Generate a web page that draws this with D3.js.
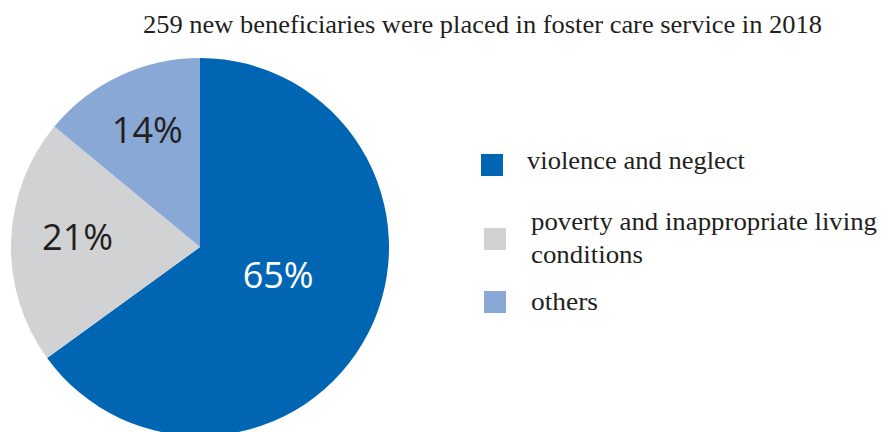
<!DOCTYPE html>
<html>
<head>
<meta charset="utf-8">
<script src="https://cdn.jsdelivr.net/npm/d3@7"></script>
<style>
  html, body { margin: 0; padding: 0; background: #fff; }
  svg { display: block; }
</style>
</head>
<body>
<svg id="chart" width="881" height="432"></svg>
<script>
// Reasons for placement in foster care, 2018
const categories = ["violence and neglect", "poverty and inappropriate living conditions", "others"];
const legendLines = [["violence and neglect"], ["poverty and inappropriate living", "conditions"], ["others"]];
const shares = [65, 21, 14];
const colors = ["#0066b3", "#d1d2d4", "#8aa8d6"];
const labelColors = ["#ffffff", "#231f20", "#231f20"];
const title = "259 new beneficiaries were placed in foster care service in 2018";

const svg = d3.select("#chart");
const cx = 200, cy = 247, R = 189;
const serif = "'Liberation Serif', 'DejaVu Serif', serif";

svg.append("text")
  .attr("x", 143).attr("y", 33)
  .attr("font-family", serif)
  .attr("font-size", 25.5)
  .attr("textLength", 679)
  .attr("lengthAdjust", "spacingAndGlyphs")
  .attr("fill", "#231f20")
  .text(title);

const pie = d3.pie().sort(null).value(d => d).startAngle(0).endAngle(2 * Math.PI);
const arcs = pie(shares);
const arc = d3.arc().innerRadius(0).outerRadius(R);

const g = svg.append("g").attr("transform", `translate(${cx},${cy})`);
g.selectAll("path")
  .data(arcs)
  .join("path")
  .attr("d", arc)
  .attr("fill", (d, i) => colors[i]);

// percentage labels: radial distance (fraction of R) and small angular nudge per slice
const labelRadius = [0.44, 0.65, 0.68];
const labelNudge = [-7, 3, 1];
g.selectAll("text.pct")
  .data(arcs)
  .join("text")
  .attr("class", "pct")
  .attr("transform", (d, i) => {
    const a = (d.startAngle + d.endAngle) / 2 + labelNudge[i] * Math.PI / 180;
    const r = labelRadius[i] * R;
    return `translate(${r * Math.sin(a)},${-r * Math.cos(a)})`;
  })
  .attr("text-anchor", "middle")
  .attr("dy", "0.36em")
  .attr("font-family", "'Open Sans', 'Noto Sans', sans-serif")
  .attr("font-size", 36)
  .attr("fill", (d, i) => labelColors[i])
  .text(d => d.data + "%");

// legend
const legendTop = [154, 228, 291];
const legendLeft = [481, 484, 484];
const textLeft = [527, 531, 531];
const baselines = [[169], [230, 263], [310]];
const lineWidths = [[218], [346, 112], [67]];
const legend = svg.append("g");
categories.forEach((c, i) => {
  legend.append("rect")
    .attr("x", legendLeft[i]).attr("y", legendTop[i])
    .attr("width", 22).attr("height", 22)
    .attr("fill", colors[i]);
  legendLines[i].forEach((line, j) => {
    legend.append("text")
      .attr("x", textLeft[i]).attr("y", baselines[i][j])
      .attr("font-family", serif)
      .attr("font-size", 26)
      .attr("textLength", lineWidths[i][j])
      .attr("lengthAdjust", "spacingAndGlyphs")
      .attr("fill", "#231f20")
      .text(line);
  });
});
</script>
</body>
</html>
